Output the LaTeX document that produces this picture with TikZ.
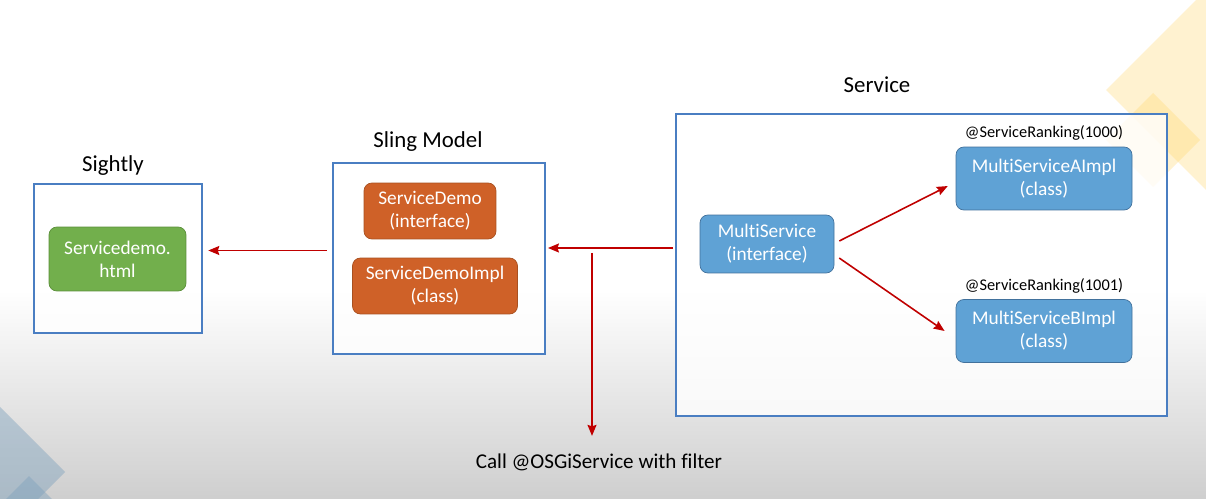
\documentclass[tikz,border=0pt]{standalone}
\usepackage{fontspec}
\setmainfont[Ligatures=NoCommon]{Carlito}
\usetikzlibrary{arrows.meta,positioning}
\definecolor{boxblue}{HTML}{4A7EC2}
\definecolor{grn}{HTML}{72AF4C}
\definecolor{grnd}{HTML}{5B8F3A}
\definecolor{org}{HTML}{CF6128}
\definecolor{orgd}{HTML}{A85020}
\definecolor{lblue}{HTML}{5FA2D5}
\definecolor{lblued}{HTML}{41719C}
\definecolor{arr}{HTML}{C00000}
\definecolor{deco}{HTML}{FFD666}
\definecolor{decob}{HTML}{7FA2BD}

\begin{document}
\begin{tikzpicture}[x=0.02cm,y=-0.02cm,>={Stealth[length=2.2mm,width=1.8mm,inset=0.3mm]},
  grp/.style={draw=boxblue,line width=1.4pt,fill=white,fill opacity=0.8},
  cls/.style={rounded corners=4.5pt,text=white,font=\fontsize{11}{13}\selectfont,align=center,inner sep=0pt},
  ttl/.style={font=\fontsize{13}{15}\selectfont},
  rank/.style={font=\fontsize{9.3}{11}\selectfont},
  link/.style={->,draw=arr,line width=0.9pt}]
\useasboundingbox (0,0) rectangle (1206,499);
% background and corner decorations
\begin{scope}
\clip (0,0) rectangle (1206,499);
\fill[white] (0,0) rectangle (1206,499);
\shade[top color=white,bottom color=black!19] (0,290) rectangle (1206,499);
\fill[deco,opacity=0.3] (1106,90) -- (1260,-64) -- (1414,90) -- (1260,244) -- cycle;
\fill[deco,opacity=0.3] (1106,140) -- (1153,93) -- (1200,140) -- (1153,187) -- cycle;
\fill[decob,opacity=0.45] (0,407) -- (65,472) -- (0,537) -- (-65,472) -- cycle;
\fill[decob,opacity=0.45] (29,476) -- (73,520) -- (29,564) -- (-15,520) -- cycle;
\end{scope}
% Sightly
\node[grp,minimum width=3.36cm,minimum height=2.98cm] (sig) at (118,258.5) {};
\node[ttl] (sigt) at (113,166) {Sightly};
\node[cls,fill=grn,draw=grnd,minimum width=2.74cm,minimum height=1.28cm] (html) at (117.5,259) {Servicedemo.\\html};
% Sling Model
\node[grp,minimum width=4.24cm,minimum height=3.82cm] (sm) at (439,258.5) {};
\node[ttl] (smt) at (428,142) {Sling Model};
\node[cls,fill=org,draw=orgd,minimum width=2.64cm,minimum height=1.12cm] (sd) at (430,211) {ServiceDemo\\(interface)};
\node[cls,fill=org,draw=orgd,minimum width=3.3cm,minimum height=1.12cm] (sdi) at (435,286) {ServiceDemoImpl\\(class)};
% Service
\node[grp,minimum width=9.82cm,minimum height=6.04cm] (svc) at (921.5,265) {};
\node[ttl] (svct) at (877,85) {Service};
\node[cls,fill=lblue,draw=lblued,minimum width=2.68cm,minimum height=1.16cm] (ms) at (767,244) {MultiService\\(interface)};
\node[cls,fill=lblue,draw=lblued,minimum width=3.52cm,minimum height=1.26cm] (msa) at (1044,178.5) {MultiServiceAImpl\\(class)};
\node[cls,fill=lblue,draw=lblued,minimum width=3.52cm,minimum height=1.26cm] (msb) at (1044,331) {MultiServiceBImpl\\(class)};
\node[rank,above=0pt of msa] (ra) {@ServiceRanking(1000)};
\node[rank,above=0pt of msb] (rb) {@ServiceRanking(1001)};
\node[font=\fontsize{12}{14}\selectfont] (call) at (599,462) {Call @OSGiService with filter};
% connectors
\coordinate (j) at (592,248);
\coordinate (k) at (0,250.5);
\coordinate (tap) at (592,253);
\draw[link] ([xshift=-1pt]svc.west |- j) -- ([xshift=1pt]sm.east |- j);
\draw[link] ([xshift=-3pt]sm.west |- k) -- ([xshift=12.5pt]html.east |- k);
\draw[link,shorten >=6.5pt] (tap) -- (tap |- call.north);
\draw[link] ([xshift=2.8pt,yshift=1.7pt]ms.east) -- ([xshift=-4.5pt,yshift=-4.3pt]msa.west);
\draw[link] ([xshift=2.8pt,yshift=-8pt]ms.east) -- ([xshift=-6.3pt]msb.west);
\end{tikzpicture}
\end{document}
